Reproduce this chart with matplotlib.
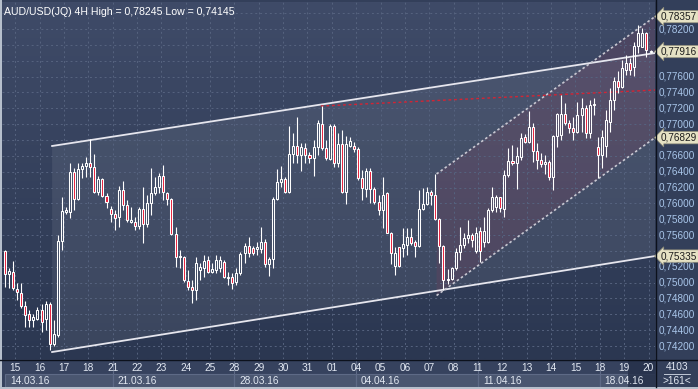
import matplotlib
matplotlib.use('Agg')
import numpy as np
import matplotlib.pyplot as plt
from matplotlib.patches import Rectangle, Polygon
from matplotlib.lines import Line2D
from matplotlib.colors import LinearSegmentedColormap
import matplotlib.transforms as mtransforms

plt.rcParams['font.family'] = ['Liberation Sans', 'DejaVu Sans']

# ---------------- data ----------------
title = 'AUD/USD(JQ) 4H High = 0,78245 Low = 0,74145'

opens = [0.75399, 0.75108, 0.75134, 0.74919, 0.74869, 0.74705, 0.74604, 0.74528, 0.74541, 0.74654,
         0.74541, 0.74730, 0.74225, 0.74339, 0.75525, 0.75891, 0.75891, 0.76396, 0.76055, 0.76434,
         0.76472, 0.76510, 0.76459, 0.76144, 0.76308, 0.76093, 0.75928, 0.75865, 0.75827, 0.76169,
         0.75979, 0.75764, 0.75764, 0.75714, 0.75928, 0.75739, 0.76004, 0.76131, 0.76207, 0.76346,
         0.76131, 0.76055, 0.75613, 0.75323, 0.75323, 0.75020, 0.74944, 0.74907, 0.75159, 0.75184,
         0.75285, 0.75134, 0.75159, 0.75184, 0.75260, 0.75058, 0.75071, 0.75008, 0.75121, 0.75374,
         0.75462, 0.75437, 0.75424, 0.75424, 0.75512, 0.75235, 0.75298, 0.76055, 0.76270, 0.76308,
         0.76144, 0.76623, 0.76724, 0.76610, 0.76699, 0.76610, 0.76573, 0.76711, 0.77001, 0.76699,
         0.76560, 0.76976, 0.76510, 0.76749, 0.76144, 0.76724, 0.76724, 0.76686, 0.76320, 0.76181,
         0.76409, 0.76181, 0.76017, 0.75916, 0.76131, 0.75626, 0.75209, 0.75449, 0.75437, 0.75474,
         0.75575, 0.75512, 0.75462, 0.75928, 0.75992, 0.76144, 0.76106, 0.75802, 0.75462, 0.75033,
         0.75045, 0.75184, 0.75386, 0.75474, 0.75563, 0.75600, 0.75399, 0.75651, 0.75512, 0.75512,
         0.75916, 0.75954, 0.76080, 0.75928, 0.76358, 0.76535, 0.76510, 0.76585, 0.76837, 0.76774,
         0.76963, 0.76661, 0.76547, 0.76497, 0.76522, 0.76333, 0.76850, 0.76863, 0.77127, 0.77014,
         0.76951, 0.76900, 0.77115, 0.77203, 0.76888, 0.77241, 0.76711, 0.76610, 0.76724, 0.77026,
         0.77304, 0.77544, 0.77468, 0.77683, 0.77771, 0.77721, 0.77986, 0.77973, 0.78150, 0.77916]

highs = [0.75412, 0.75184, 0.75273, 0.74995, 0.74995, 0.74768, 0.74654, 0.74604, 0.74692, 0.74730,
         0.74768, 0.74755, 0.74528, 0.75600, 0.76080, 0.75954, 0.76510, 0.76447, 0.76510, 0.76510,
         0.76585, 0.76812, 0.76623, 0.76346, 0.76320, 0.76131, 0.75966, 0.75916, 0.76219, 0.76282,
         0.76042, 0.75954, 0.75827, 0.75954, 0.76207, 0.76106, 0.76447, 0.76333, 0.76383, 0.76484,
         0.76144, 0.76068, 0.75701, 0.75412, 0.75336, 0.75159, 0.75033, 0.75323, 0.75247, 0.75348,
         0.75336, 0.75247, 0.75348, 0.75336, 0.75285, 0.75134, 0.75121, 0.75184, 0.75386, 0.75500,
         0.75575, 0.75462, 0.75512, 0.75701, 0.75550, 0.75323, 0.76080, 0.76434, 0.76472, 0.76333,
         0.76976, 0.76888, 0.77089, 0.76762, 0.76762, 0.76648, 0.76800, 0.77052, 0.77228, 0.76800,
         0.77001, 0.77001, 0.76888, 0.76926, 0.76850, 0.76837, 0.76774, 0.76711, 0.76421, 0.76447,
         0.76447, 0.76207, 0.76106, 0.76333, 0.76144, 0.75638, 0.75449, 0.75449, 0.75689, 0.75689,
         0.75689, 0.75538, 0.76169, 0.76194, 0.76207, 0.76169, 0.76371, 0.75815, 0.75474, 0.75172,
         0.75197, 0.75437, 0.75701, 0.75626, 0.75790, 0.75626, 0.75701, 0.75701, 0.75827, 0.75941,
         0.76207, 0.76106, 0.76080, 0.76421, 0.76699, 0.76737, 0.76711, 0.76888, 0.76875, 0.77165,
         0.77014, 0.76762, 0.76636, 0.76610, 0.76547, 0.76863, 0.77140, 0.77367, 0.77266, 0.77052,
         0.77089, 0.77279, 0.77330, 0.77241, 0.77304, 0.77330, 0.76837, 0.76926, 0.77178, 0.77456,
         0.77594, 0.77670, 0.77809, 0.77872, 0.77834, 0.78036, 0.78245, 0.78213, 0.78162, 0.77935]

lows = [0.74944, 0.74932, 0.74907, 0.74781, 0.74680, 0.74440, 0.74440, 0.74440, 0.74528, 0.74377,
        0.74402, 0.74145, 0.74200, 0.74314, 0.75412, 0.75865, 0.75815, 0.75916, 0.76042, 0.76320,
        0.76333, 0.76333, 0.76131, 0.76106, 0.76080, 0.75941, 0.75764, 0.75664, 0.75701, 0.75916,
        0.75764, 0.75752, 0.75664, 0.75676, 0.75500, 0.75701, 0.75853, 0.76106, 0.76131, 0.76042,
        0.75979, 0.75600, 0.75197, 0.75184, 0.75008, 0.74907, 0.74743, 0.74781, 0.75033, 0.75071,
        0.75121, 0.75121, 0.75121, 0.75134, 0.75058, 0.74970, 0.74919, 0.74970, 0.75096, 0.75247,
        0.75323, 0.75348, 0.75348, 0.75374, 0.75197, 0.75083, 0.75184, 0.76042, 0.76207, 0.76131,
        0.76131, 0.76510, 0.76510, 0.76409, 0.76510, 0.76510, 0.76346, 0.76610, 0.76673, 0.76547,
        0.76547, 0.76459, 0.76459, 0.76131, 0.75992, 0.76711, 0.76648, 0.76295, 0.76042, 0.76080,
        0.76004, 0.75992, 0.75853, 0.75689, 0.75626, 0.75235, 0.75096, 0.75197, 0.75323, 0.75348,
        0.75474, 0.75323, 0.75449, 0.75916, 0.75979, 0.75979, 0.75790, 0.75247, 0.74907, 0.74982,
        0.75033, 0.75159, 0.75285, 0.75437, 0.75500, 0.75449, 0.75374, 0.75260, 0.75449, 0.75500,
        0.75891, 0.75891, 0.75891, 0.75827, 0.76333, 0.76484, 0.76181, 0.76547, 0.76762, 0.76762,
        0.76522, 0.76434, 0.76459, 0.76371, 0.76295, 0.76169, 0.76711, 0.76800, 0.76989, 0.76888,
        0.76800, 0.76888, 0.76900, 0.76825, 0.76825, 0.77115, 0.76320, 0.76447, 0.76585, 0.76900,
        0.77178, 0.77393, 0.77456, 0.77620, 0.77620, 0.77607, 0.77897, 0.77973, 0.77847, 0.77897]

closes = [0.75108, 0.75146, 0.74932, 0.74881, 0.74705, 0.74591, 0.74528, 0.74566, 0.74654, 0.74503,
          0.74730, 0.74225, 0.74352, 0.75525, 0.75903, 0.75916, 0.76396, 0.76055, 0.76434, 0.76472,
          0.76510, 0.76459, 0.76144, 0.76308, 0.76093, 0.76017, 0.75865, 0.75815, 0.76169, 0.75979,
          0.75790, 0.75790, 0.75714, 0.75928, 0.75739, 0.76004, 0.76131, 0.76207, 0.76346, 0.76144,
          0.76055, 0.75613, 0.75323, 0.75336, 0.75033, 0.74944, 0.74907, 0.75247, 0.75197, 0.75273,
          0.75134, 0.75172, 0.75285, 0.75285, 0.75071, 0.75071, 0.74995, 0.75121, 0.75361, 0.75462,
          0.75374, 0.75374, 0.75449, 0.75512, 0.75235, 0.75298, 0.76055, 0.76270, 0.76308, 0.76144,
          0.76623, 0.76724, 0.76610, 0.76711, 0.76610, 0.76573, 0.76711, 0.77014, 0.76699, 0.76573,
          0.76976, 0.76510, 0.76749, 0.76144, 0.76749, 0.76787, 0.76686, 0.76320, 0.76194, 0.76409,
          0.76181, 0.76017, 0.75916, 0.76106, 0.75626, 0.75374, 0.75374, 0.75209, 0.75487, 0.75575,
          0.75500, 0.75462, 0.75928, 0.75992, 0.76144, 0.76106, 0.75802, 0.75462, 0.75033, 0.75045,
          0.75184, 0.75386, 0.75474, 0.75563, 0.75600, 0.75538, 0.75626, 0.75399, 0.75651, 0.75916,
          0.76080, 0.76080, 0.75941, 0.76358, 0.76535, 0.76510, 0.76598, 0.76825, 0.76774, 0.76963,
          0.76661, 0.76547, 0.76497, 0.76522, 0.76333, 0.76850, 0.77127, 0.77127, 0.77014, 0.76951,
          0.76900, 0.77115, 0.77203, 0.76888, 0.77241, 0.77253, 0.76610, 0.76837, 0.77052, 0.77304,
          0.77544, 0.77468, 0.77708, 0.77771, 0.77683, 0.77986, 0.78150, 0.78150, 0.77935, 0.77916]

day_labels = ['15', '16', '17', '18', '21', '22', '23', '24', '25', '28', '29', '30', '31', '01',
              '04', '05', '06', '07', '08', '11', '12', '13', '14', '15', '18', '19', '20']
week_labels = ['14.03.16', '21.03.16', '28.03.16', '04.04.16', '11.04.16', '18.04.16']
week_first_day = [0, 4, 9, 14, 19, 24]
bars_per_day = 6
first_day_bar = 2.5

price_ticks = [0.742, 0.744, 0.746, 0.748, 0.750, 0.752, 0.754, 0.756, 0.758, 0.760, 0.762,
               0.764, 0.766, 0.768, 0.770, 0.772, 0.774, 0.776, 0.778, 0.780, 0.782, 0.784]
marked_levels = [0.78357, 0.77916, 0.76829, 0.75335]

# trend objects (bar index, price)
channel_x = [11.6, 160.1]
channel_upper = [0.76724, 0.77897]
channel_lower = [0.74124, 0.75335]
inner_x = [106.3, 160.1]
inner_upper = [0.76371, 0.78357]
inner_lower = [0.74837, 0.76829]
resist_x = [77.8, 160.1]
resist_y = [0.77228, 0.77430]

bars_total = '4103'
bars_visible = '>161<'

# ---------------- layout ----------------
W, H = 698, 389
BG = '#333f5a'
fig = plt.figure(figsize=(W / 100, H / 100), dpi=100)
fig.patch.set_facecolor(BG)

def fx(px):
    return px / W

def fy(py):
    return 1 - py / H

PL, PR, PT, PB = 2, 655, 2, 359
ax = fig.add_axes([fx(PL), fy(PB), fx(PR) - fx(PL), fy(PT) - fy(PB)])
XMIN, XMAX = -0.74, 160.1
YMIN, YMAX = 0.74036, 0.78541

cmap = LinearSegmentedColormap.from_list('bg', ['#2b3751', '#3f4b68'])
ax.imshow(np.linspace(0, 1, 256).reshape(-1, 1), extent=[XMIN, XMAX, YMIN, YMAX],
          origin='lower', cmap=cmap, aspect='auto', zorder=0, interpolation='bilinear')

# channel fills
ax.add_patch(Polygon([(channel_x[0], channel_upper[0]), (channel_x[1], channel_upper[1]),
                      (channel_x[1], channel_lower[1]), (channel_x[0], channel_lower[0])],
                     closed=True, facecolor='white', alpha=0.075, edgecolor='none', zorder=1))
ax.add_patch(Polygon([(inner_x[0], inner_upper[0]), (inner_x[1], inner_upper[1]),
                      (inner_x[1], inner_lower[1]), (inner_x[0], inner_lower[0])],
                     closed=True, facecolor='#8d3e5a', alpha=0.2, edgecolor='none', zorder=1))

# grid
grid_c = '#56637f'
ax.hlines(price_ticks, XMIN, XMAX, colors=grid_c, linestyles=(0, (2, 3)), lw=0.7, zorder=1.5)
day_pos = [first_day_bar + bars_per_day * k for k in range(len(day_labels))]
ax.vlines(day_pos, YMIN, YMAX, colors=grid_c, linestyles=(0, (2, 3)), lw=0.7, zorder=1.5)

# trend lines
ax.plot(channel_x, channel_upper, color='#e6e6ee', lw=1.3, zorder=3)
ax.plot(channel_x, channel_lower, color='#e6e6ee', lw=1.3, zorder=3)
ax.plot(inner_x, inner_upper, color='#c8c8d2', lw=1.2, ls=(0, (1.5, 1.5)), zorder=3)
ax.plot(inner_x, inner_lower, color='#c8c8d2', lw=1.2, ls=(0, (1.5, 1.5)), zorder=3)
ax.plot(resist_x, resist_y, color='#d42434', lw=1.0, ls=(0, (2, 2)), zorder=3)

# candles
o = np.array(opens); h = np.array(highs); l = np.array(lows); c = np.array(closes)
idx = np.arange(len(o))
blo = np.minimum(o, c); bhi = np.maximum(o, c)
ax.vlines(idx, l, blo, color='white', lw=0.8, zorder=4)
ax.vlines(idx, bhi, h, color='white', lw=0.8, zorder=4)
hgt = np.maximum(bhi - blo, 0.00005)
up = c >= o
ax.bar(idx[up], hgt[up], bottom=blo[up], width=0.5, facecolor='none',
       edgecolor='white', linewidth=0.75, zorder=5)
ax.bar(idx[~up], hgt[~up], bottom=blo[~up], width=0.5, facecolor='#e8203c',
       edgecolor='white', linewidth=0.75, zorder=5)

ax.set_xlim(XMIN, XMAX)
ax.set_ylim(YMIN, YMAX)
ax.set_xticks([]); ax.set_yticks([])
for s in ax.spines.values():
    s.set_visible(False)

# right price scale (labels hidden behind the level boxes are skipped)
blend = mtransforms.blended_transform_factory(ax.transAxes, ax.transData)
plot_w = PR - PL
for p in price_ticks:
    if not (YMIN < p < YMAX):
        continue
    if min(abs(p - m) for m in marked_levels) < 0.0012:
        continue
    ax.text(1 + 4 / plot_w, p, f'{p:.5f}'.replace('.', ','), transform=blend,
            color='#a9c6ea', fontsize=7.2, va='center', ha='left', clip_on=False)
for p in marked_levels:
    ax.text(1 + 6 / plot_w, p, f'{p:.5f}'.replace('.', ','), transform=blend,
            color='#1c1c1c', fontsize=7.2, va='center', ha='left', clip_on=False, zorder=10,
            bbox=dict(boxstyle='larrow,pad=0.12', fc='#e6e2c4', ec='#8c8a78', lw=0.5))

# title
fig.text(fx(4), fy(12), title, color='white', fontsize=7.6, va='center', ha='left')

# date axis
dax = fig.add_axes([fx(PL), fy(387), fx(PR) - fx(PL), fy(360) - fy(387)])
dax.set_facecolor('#36425e')
dax.set_xlim(XMIN, XMAX)
dax.set_ylim(27, 0)
dax.set_xticks([]); dax.set_yticks([])
for s in dax.spines.values():
    s.set_visible(False)
week_starts = [0] + [day_pos[k] for k in week_first_day[1:]]
week_ends = week_starts[1:] + [XMAX]
for ws, we, lab in zip(week_starts, week_ends, week_labels):
    dax.add_patch(Rectangle((ws, 14), we - ws, 13, facecolor='#4a5670',
                            edgecolor='#5e6a86', lw=0.8, zorder=1))
    dax.text(ws + 1.2, 20.5, lab, color='#e2e8f2', fontsize=7.3, va='center', ha='left', zorder=3)
dax.add_patch(Rectangle((153.4, 0), XMAX - 153.4, 27, facecolor='#26314a', edgecolor='none',
                        alpha=0.85, zorder=2))
dax.vlines([day_pos[k] for k in week_first_day[1:]], 0, 27, colors='#5e6a86', lw=0.8, zorder=2)
for k, lab in enumerate(day_labels):
    dax.text(day_pos[k], 8, lab, color='#e2e8f2', fontsize=7.3, va='center', ha='center', zorder=3)

# separators and corner
fig.add_artist(Line2D([fx(655.5)] * 2, [fy(387), 1], color='#0c111c', lw=1.0))
fig.add_artist(Line2D([0, 1], [fy(359.5)] * 2, color='#0c111c', lw=1.0))
fig.text(fx(677), fy(367), bars_total, color='#e2e8f2', fontsize=7.3, ha='center', va='center')
fig.add_artist(Line2D([fx(664), fx(690)], [fy(374)] * 2, color='#c0c8d6', lw=0.7))
fig.text(fx(677), fy(381), bars_visible, color='#e2e8f2', fontsize=7.3, ha='center', va='center')

# light outer border
fig.add_artist(Rectangle((0, 0), fx(2), 1, transform=fig.transFigure, facecolor='#b6bfcc',
                         edgecolor='none'))
fig.add_artist(Rectangle((0, 0), 1, 2 / H, transform=fig.transFigure, facecolor='#b6bfcc',
                         edgecolor='none'))

fig.savefig('out.png', dpi=100, facecolor=fig.get_facecolor())
